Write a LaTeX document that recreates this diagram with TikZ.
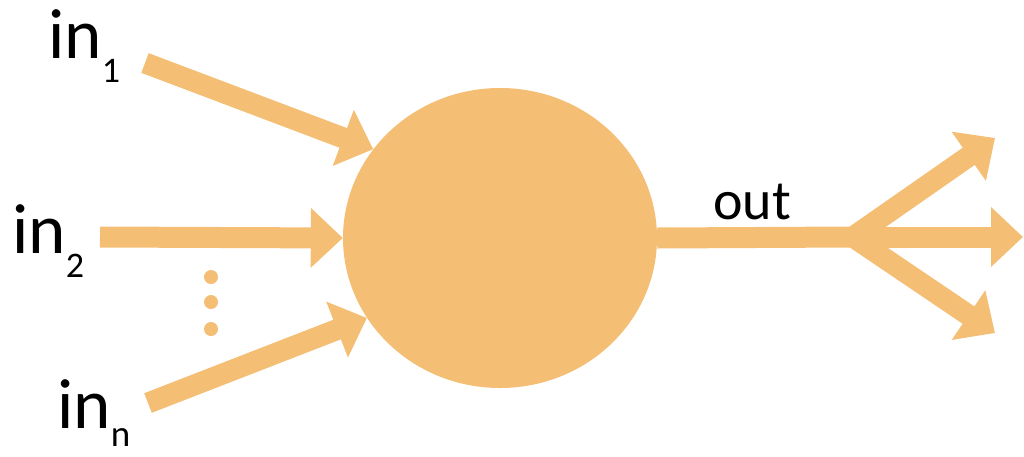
\documentclass[tikz,border=0pt]{standalone}
\usepackage{fontspec}
\setmainfont{Carlito}
\usetikzlibrary{arrows.meta,shapes.geometric}
\definecolor{peach}{RGB}{244,190,116}
\tikzset{
  conn/.style={draw=peach, line width=21pt},
  arr/.style={conn, -{Triangle[length=32pt, width=58pt]}},
  lbl/.style={inner sep=0pt, anchor=base west, text=black, font=\fontsize{71}{80}\selectfont},
  dotc/.style={fill=peach, draw=none, circle, minimum size=14pt, inner sep=0pt},
}
\begin{document}
\begin{tikzpicture}[x=1pt, y=-1pt]
\useasboundingbox (0,0) rectangle (1024,456);
\node[ellipse, fill=peach, minimum width=314pt, minimum height=300pt, inner sep=0pt] (c) at (500,238) {};
% labels
\node[lbl] (l1) at (48,58) {in\raisebox{-24pt}{\fontsize{36}{36}\selectfont 1}};
\node[lbl] (l2) at (12,253) {in\raisebox{-24pt}{\fontsize{36}{36}\selectfont 2}};
\node[lbl] (ln) at (57,428) {in\raisebox{-18pt}{\fontsize{37}{37}\selectfont n}};
\node[lbl, font=\fontsize{56}{60}\selectfont] (lo) at (713,219) {out};
% input starts
\coordinate (s1) at (145,63);
\coordinate (s2) at (100,237);
\coordinate (sn) at (148,403);
\draw[arr] (s1) -- (c.145);
\draw[arr] (s2) -- (c.west);
\draw[arr] (sn) -- (c.211);
% dots
\node[dotc] (d1) at (211,277) {};
\node[dotc] (d2) at (211,302) {};
\node[dotc] (d3) at (211,329) {};
% output
\coordinate (b) at (853,237);
\coordinate (ou) at (995,138);
\coordinate (om) at (1023,237);
\coordinate (od) at (995,333);
\draw[conn] (c.east) -- (b);
\draw[arr] (b) -- (ou);
\draw[arr] (b) -- (od);
\draw[arr] ([xshift=-2pt]b) -- (om);
\end{tikzpicture}
\end{document}
